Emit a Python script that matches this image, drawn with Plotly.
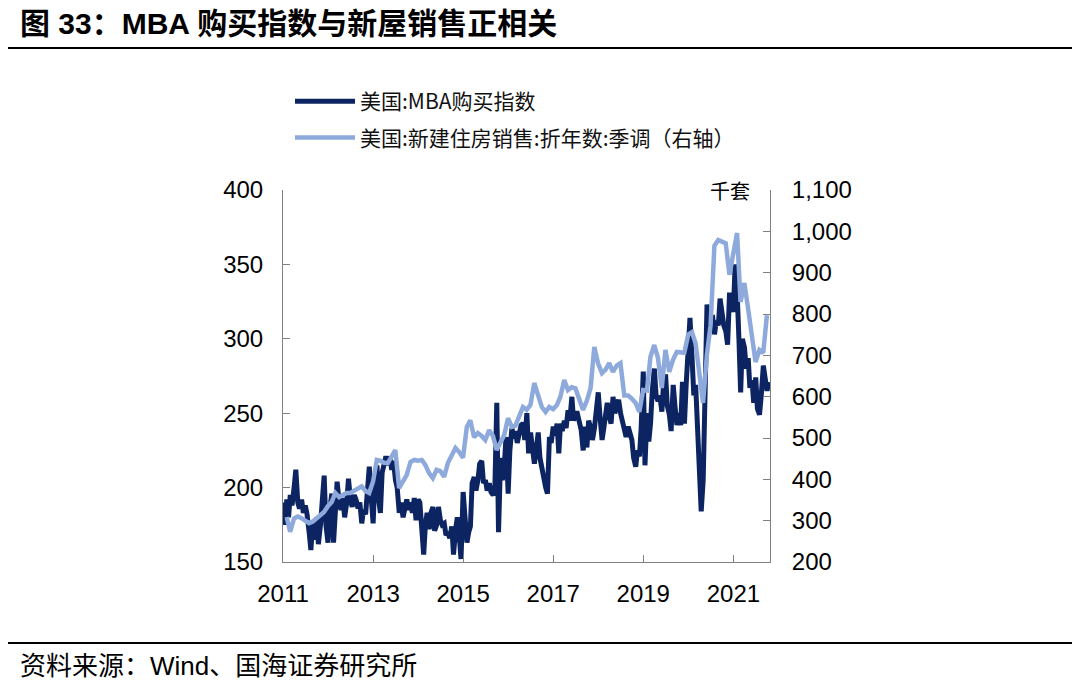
import pandas as pd
import plotly.graph_objects as go

# MBA purchase index, read twice a month (1st, 15th)
MBA_2011 = [190, 175, 192, 180, 195, 188, 200, 212, 190, 186, 192, 183,
            188, 182, 170, 158, 178, 165, 180, 162, 175, 195, 208, 175]
MBA_2012 = [163, 185, 196, 163, 180, 204, 190, 185, 193, 180, 190, 206,
            192, 187, 195, 192, 186, 190, 176, 185, 182, 200, 214, 195]
MBA_2013 = [176, 205, 215, 192, 183, 210, 218, 221, 215, 221, 212, 218,
            205, 200, 183, 190, 180, 186, 192, 185, 190, 183, 193, 178]
MBA_2014 = [192, 190, 172, 155, 175, 183, 172, 183, 187, 171, 175, 187,
            178, 175, 176, 168, 170, 166, 174, 155, 172, 180, 167, 152]
MBA_2015 = [197, 180, 163, 170, 174, 203, 207, 198, 205, 216, 218, 203,
            205, 198, 203, 197, 195, 198, 257, 170, 220, 205, 215, 234]
MBA_2016 = [196, 225, 240, 233, 238, 230, 236, 242, 243, 232, 250, 223,
            237, 225, 216, 225, 237, 220, 212, 205, 200, 196, 234, 230]
MBA_2017 = [241, 235, 243, 223, 243, 238, 245, 240, 252, 245, 261, 245,
            250, 250, 242, 239, 225, 241, 227, 245, 240, 232, 240, 250]
MBA_2018 = [264, 248, 232, 240, 250, 257, 248, 243, 261, 250, 255, 259,
            250, 245, 238, 234, 241, 236, 232, 220, 214, 225, 221, 240]
MBA_2019 = [278, 215, 250, 231, 243, 265, 280, 262, 258, 262, 251, 270,
            276, 255, 249, 238, 269, 255, 242, 250, 242, 271, 243, 269]
MBA_2020 = [303, 314, 287, 262, 269, 240, 205, 184, 205, 253, 323, 309,
            305, 316, 303, 312, 309, 327, 315, 309, 305, 296, 331, 325]
MBA_2021 = [318, 350, 330, 300, 264, 300, 294, 280, 287, 267, 272, 257,
            274, 253, 249, 262, 282, 274, 265, 271]

# new home sales, SAAR, thousand units, month end
SALES_2011 = [309, 273, 305, 310, 306, 300, 294, 298, 306, 313, 321, 335]
SALES_2012 = [345, 367, 357, 362, 367, 367, 372, 379, 383, 372, 367, 394]
SALES_2013 = [447, 445, 440, 439, 455, 471, 379, 395, 410, 442, 447, 445]
SALES_2014 = [447, 435, 415, 403, 423, 420, 406, 440, 460, 476, 466, 452]
SALES_2015 = [527, 543, 502, 512, 505, 495, 519, 505, 471, 490, 507, 548]
SALES_2016 = [527, 530, 555, 575, 568, 580, 633, 600, 575, 563, 575, 570]
SALES_2017 = [580, 600, 640, 616, 623, 620, 595, 568, 590, 621, 720, 680]
SALES_2018 = [657, 665, 681, 660, 675, 681, 603, 603, 595, 585, 563, 616]
SALES_2019 = [615, 696, 725, 694, 621, 713, 660, 690, 708, 706, 706, 750]
SALES_2020 = [756, 730, 650, 585, 700, 773, 965, 979, 975, 971, 895, 943]
SALES_2021 = [996, 829, 875, 814, 740, 684, 713, 706, 797]

YEAR_TICKS = ['2011', '2013', '2015', '2017', '2019', '2021']

mba = (MBA_2011 + MBA_2012 + MBA_2013 + MBA_2014 + MBA_2015 + MBA_2016
       + MBA_2017 + MBA_2018 + MBA_2019 + MBA_2020 + MBA_2021)
sales = (SALES_2011 + SALES_2012 + SALES_2013 + SALES_2014 + SALES_2015 + SALES_2016
         + SALES_2017 + SALES_2018 + SALES_2019 + SALES_2020 + SALES_2021)
mba_dates = pd.date_range('2011-01-01', periods=len(mba), freq='SMS')
sales_dates = pd.date_range('2011-01-31', periods=len(sales), freq='ME')

# page puts the figure 8px in from the top left corner
OFF = 8
W, H = 1080 - OFF, 689 - OFF
L, R, T, B = 283, 770, 190, 562  # plot area, in window pixels


def px(x):
    return (x - L) / (R - L)


def py(y):
    return (B - y) / (B - T)


DARK = '#0c2461'
LIGHT = '#8eaadc'
AXIS = '#808080'
CJK = 'Noto Sans CJK SC'
LAT = 'Liberation Sans, Arial'

fig = go.Figure()
fig.add_trace(go.Scatter(x=mba_dates, y=mba, mode='lines', name='美国:MBA购买指数',
                         line=dict(color=DARK, width=5), legendgroup='a'))
fig.add_trace(go.Scatter(x=sales_dates, y=sales, mode='lines', yaxis='y2',
                         name='美国:新建住房销售:折年数:季调（右轴）',
                         line=dict(color=LIGHT, width=4.5), legendgroup='b'))

tick_font = dict(family=LAT, size=24, color='black')
fig.update_layout(
    width=W, height=H,
    margin=dict(l=L - OFF, r=W - (R - OFF), t=T - OFF, b=H - (B - OFF), pad=0),
    paper_bgcolor='white', plot_bgcolor='white',
    showlegend=True,
    legend=dict(x=px(290), y=py(81), xanchor='left', yanchor='top',
                font=dict(family=CJK, size=21, color='#111111'),
                itemwidth=60, traceorder='grouped', tracegroupgap=6,
                bgcolor='rgba(0,0,0,0)'),
    xaxis=dict(type='date', range=['2011-01-01', '2021-10-25'],
               tickvals=[f'{y}-01-01' for y in YEAR_TICKS], ticktext=YEAR_TICKS,
               ticks='inside', ticklen=7, tickcolor=AXIS, showline=True, linecolor=AXIS,
               linewidth=1, showgrid=False, zeroline=False, ticklabelstandoff=10,
               tickfont=tick_font),
    yaxis=dict(range=[150, 400], dtick=50, ticks='inside', ticklen=7, tickcolor=AXIS,
               showline=True, linecolor=AXIS, linewidth=1, showgrid=False, zeroline=False,
               ticklabelstandoff=14, tickfont=tick_font),
    yaxis2=dict(range=[200, 1100], dtick=100, tickformat=',', overlaying='y', side='right',
                ticks='inside', ticklen=7, tickcolor=AXIS, showline=True, linecolor=AXIS,
                linewidth=1, showgrid=False, zeroline=False, ticklabelstandoff=16,
                tickfont=tick_font),
)

# header, footer and unit label
fig.add_annotation(x=px(18), y=py(24), xref='paper', yref='paper', xanchor='left',
                   yanchor='middle', showarrow=False,
                   text='<b>图 33：MBA 购买指数与新屋销售正相关</b>',
                   font=dict(family=f'{LAT}, {CJK}', size=30, color='black'))
fig.add_annotation(x=px(18), y=py(666), xref='paper', yref='paper', xanchor='left',
                   yanchor='middle', showarrow=False, text='资料来源：Wind、国海证券研究所',
                   font=dict(family=f'{LAT}, {CJK}', size=26, color='black'))
fig.add_annotation(x=px(752), y=py(190), xref='paper', yref='paper', xanchor='right',
                   yanchor='middle', showarrow=False, text='千套',
                   font=dict(family=CJK, size=20, color='black'))
fig.add_shape(type='line', xref='paper', yref='paper', x0=px(0), x1=px(1090),
              y0=py(48), y1=py(48), line=dict(color='black', width=2))
fig.add_shape(type='line', xref='paper', yref='paper', x0=px(0), x1=px(1090),
              y0=py(643), y1=py(643), line=dict(color='black', width=2))

fig.write_html('out.html')
